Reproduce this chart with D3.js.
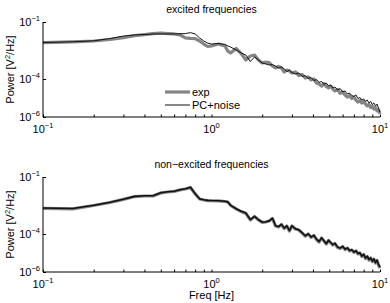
<!DOCTYPE html>
<html><head><meta charset="utf-8">
<script src="https://cdn.jsdelivr.net/npm/d3@7"></script>
<style>
body{margin:0;background:#fff;}
svg{display:block;font-family:"Liberation Sans",Arial,Helvetica,sans-serif;}
</style></head>
<body>
<svg id="chart" width="390" height="303"></svg>
<script>
// Frequencies [Hz]
const freqs = [0.1,0.15,0.2,0.25,0.3,0.35,0.4,0.45,0.5,0.55,0.6,0.65,0.7,0.75,0.8,0.85,0.9,0.95,1.0,
  1.1,1.2,1.25,1.3,1.4,1.5,1.6,1.7,1.8,1.9,2.0,
  2.1,2.2,2.3,2.4,2.5,2.6,2.7,2.8,2.9,3.0,
  3.15,3.3,3.45,3.6,3.75,3.9,4.05,4.2,4.35,4.5,4.65,4.8,4.95,5.1,5.25,5.4,
  5.6,5.8,6.0,6.2,6.4,6.6,6.8,7.0,7.2,7.4,7.6,7.8,8.0,8.2,8.4,8.6,8.8,9.0,9.2,9.4,9.6,9.8,10.0];

// Series values: log10 of power [V^2/Hz]
const excitedExpLog = [-2.09,-2.05,-2.00,-1.92,-1.82,-1.72,-1.66,-1.61,-1.58,-1.61,-1.63,-1.68,-1.84,-1.86,-1.87,-2.00,-2.16,-2.29,-2.26,
  -2.16,-2.26,-2.53,-2.63,-2.39,-2.66,-3.00,-2.79,-2.74,-3.00,-3.16,
  -3.11,-3.13,-3.32,-3.42,-3.34,-3.42,-3.63,-3.53,-3.58,-3.68,
  -3.63,-3.82,-3.76,-3.95,-3.89,-4.05,-4.00,-4.21,-4.26,-4.37,-4.24,-4.39,-4.47,-4.37,-4.53,-4.63,
  -4.55,-4.76,-4.68,-4.84,-4.95,-4.87,-5.03,-4.95,-5.11,-5.21,-5.13,-5.26,-5.18,-5.32,-5.42,-5.34,-5.50,-5.42,-5.58,-5.50,-5.68,-5.63,-5.84];

const excitedPCLog = [-2.08,-2.04,-1.99,-1.87,-1.74,-1.68,-1.66,-1.63,-1.63,-1.63,-1.63,-1.62,-1.61,-1.56,-1.63,-1.84,-2.00,-2.11,-2.16,
  -2.13,-2.18,-2.26,-2.32,-2.47,-2.63,-2.74,-3.08,-2.84,-3.00,-3.16,
  -3.21,-3.26,-3.24,-3.32,-3.42,-3.37,-3.47,-3.61,-3.53,-3.66,
  -3.74,-3.68,-3.87,-3.82,-3.97,-3.92,-4.08,-4.03,-4.18,-4.13,-4.29,-4.21,-4.37,-4.32,-4.47,-4.42,
  -4.58,-4.50,-4.68,-4.63,-4.79,-4.74,-4.87,-4.92,-4.84,-5.03,-4.97,-5.11,-5.05,-5.18,-5.11,-5.26,-5.18,-5.34,-5.26,-5.42,-5.32,-5.53,-5.74];

const nonExcitedExpLog = [-2.65,-2.68,-2.50,-2.34,-2.18,-2.03,-2.00,-2.00,-1.84,-1.79,-1.76,-1.68,-1.63,-1.55,-1.89,-2.16,-2.21,-2.24,-2.25,
  -2.26,-2.29,-2.32,-2.50,-2.68,-2.82,-2.92,-3.26,-3.08,-3.26,-3.39,
  -3.37,-3.32,-3.18,-3.58,-3.63,-3.50,-3.71,-3.58,-3.84,-3.58,
  -3.74,-3.79,-3.95,-4.11,-4.00,-4.18,-4.08,-4.29,-4.42,-4.21,-4.37,-4.53,-4.34,-4.47,-4.58,-4.50,
  -4.71,-4.76,-4.66,-4.82,-4.74,-4.89,-4.84,-4.97,-4.89,-5.05,-5.00,-5.18,-5.08,-5.29,-5.18,-5.37,-5.26,-5.45,-5.32,-5.53,-5.39,-5.63,-5.79];

const nonExcitedPCLog = [-2.63,-2.66,-2.49,-2.33,-2.17,-2.02,-1.99,-1.99,-1.83,-1.78,-1.75,-1.67,-1.62,-1.54,-1.88,-2.15,-2.20,-2.23,-2.24,
  -2.25,-2.28,-2.31,-2.49,-2.67,-2.80,-2.90,-3.24,-3.07,-3.25,-3.37,
  -3.36,-3.31,-3.17,-3.56,-3.61,-3.49,-3.69,-3.57,-3.82,-3.57,
  -3.73,-3.78,-3.93,-4.09,-3.99,-4.16,-4.07,-4.27,-4.40,-4.20,-4.35,-4.51,-4.33,-4.45,-4.56,-4.49,
  -4.69,-4.74,-4.65,-4.80,-4.73,-4.87,-4.83,-4.95,-4.88,-5.03,-4.99,-5.16,-5.07,-5.27,-5.17,-5.35,-5.25,-5.43,-5.31,-5.51,-5.38,-5.60,-5.75];

// Tick definitions
const xMajorTicks = [0.1, 1, 10];
const xMajorExp = ["\u22121", "0", "1"];
const xMinorTicks = [0.2,0.3,0.4,0.5,0.6,0.7,0.8,0.9,2,3,4,5,6,7,8,9];
const yTicks = [1e-1, 1e-4, 1e-6];
const yTickExp = ["\u22121", "\u22124", "\u22126"];

const panelTitles = ["excited frequencies", "non\u2212excited frequencies"];
const legendLabels = ["exp", "PC+noise"];

const svg = d3.select("#chart");

const panels = [
  {title: panelTitles[0], top: 22, bottom: 117, exp: excitedExpLog, pc: excitedPCLog, pcW: 1, legend: true, xlabel: false},
  {title: panelTitles[1], top: 177, bottom: 272, exp: nonExcitedExpLog, pc: nonExcitedPCLog, pcW: 1.6, legend: false, xlabel: true}
];

const x = d3.scaleLog().domain([0.1, 10]).range([43, 380]);

panels.forEach(p => {
  const y = d3.scaleLog().domain([1e-6, 1e-1]).range([p.bottom, p.top]);
  const g = svg.append("g");

  const line = d3.line()
    .x((d, i) => x(freqs[i]))
    .y(d => y(Math.pow(10, d)));

  g.append("path").datum(p.exp)
    .attr("d", line).attr("fill", "none")
    .attr("stroke", "#858585").attr("stroke-width", 3.2).attr("stroke-linejoin", "round");
  g.append("path").datum(p.pc)
    .attr("d", line).attr("fill", "none")
    .attr("stroke", "#111").attr("stroke-width", p.pcW).attr("stroke-linejoin", "round");

  // x axis
  const xa = g.append("g").attr("transform", `translate(0,${p.bottom})`)
    .call(d3.axisBottom(x).tickValues(xMajorTicks.concat(xMinorTicks)).tickSize(-2.5).tickFormat(""));
  xa.select(".domain").attr("d", `M${x(0.1)},0H${x(10)}`).attr("stroke", "#000");
  xa.selectAll(".tick line").attr("stroke", "#000");

  xMajorTicks.forEach((t, i) => {
    const txt = g.append("text").attr("x", x(t)).attr("y", p.bottom + 16)
      .attr("text-anchor", "middle").attr("font-size", 11).attr("fill", "#000");
    txt.append("tspan").text("10");
    txt.append("tspan").attr("dy", -5).attr("font-size", 7.5).text(xMajorExp[i]);
  });

  // y axis
  const ya = g.append("g").attr("transform", `translate(${x(0.1)},0)`)
    .call(d3.axisLeft(y).tickValues(yTicks).tickSize(-3).tickFormat(""));
  ya.select(".domain").attr("d", `M0,${p.top}V${p.bottom}`).attr("stroke", "#000");
  ya.selectAll(".tick line").attr("stroke", "#000");

  yTicks.forEach((t, i) => {
    const txt = g.append("text").attr("x", 40).attr("y", y(t) + 3.5)
      .attr("text-anchor", "end").attr("font-size", 11).attr("fill", "#000");
    txt.append("tspan").text("10");
    txt.append("tspan").attr("dy", -5).attr("font-size", 7.5).text(yTickExp[i]);
  });

  // y label
  const yl = g.append("text")
    .attr("transform", `translate(14,${(p.top + p.bottom) / 2}) rotate(-90)`)
    .attr("text-anchor", "middle").attr("font-size", 11).attr("fill", "#000");
  yl.append("tspan").text("Power [V");
  yl.append("tspan").attr("dy", -4).attr("font-size", 7.5).text("2");
  yl.append("tspan").attr("dy", 4).text("/Hz]");

  // title
  g.append("text").attr("x", (x(0.1) + x(10)) / 2).attr("y", p.top - 9)
    .attr("text-anchor", "middle").attr("font-size", 10.5).attr("fill", "#000").text(p.title);

  if (p.xlabel) {
    g.append("text").attr("x", (x(0.1) + x(10)) / 2).attr("y", p.bottom + 27)
      .attr("text-anchor", "middle").attr("font-size", 11).attr("fill", "#000").text("Freq [Hz]");
  }

  if (p.legend) {
    const lg = g.append("g");
    const items = [{c: "#858585", w: 3.2}, {c: "#111", w: 1}];
    items.forEach((it, i) => {
      const yy = 92 + i * 13;
      lg.append("line").attr("x1", 165).attr("x2", 190).attr("y1", yy).attr("y2", yy)
        .attr("stroke", it.c).attr("stroke-width", it.w);
      lg.append("text").attr("x", 192).attr("y", yy + 4).attr("font-size", 11).attr("fill", "#000").text(legendLabels[i]);
    });
  }
});
</script>
</body></html>
